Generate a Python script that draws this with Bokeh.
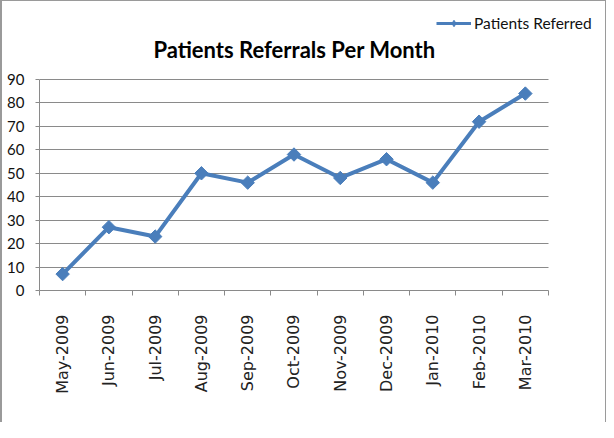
import numpy as np
from bokeh.plotting import figure
from bokeh.models import Range1d, FixedTicker, Label, Legend, LegendItem
from bokeh.embed import file_html
from bokeh.resources import INLINE

months = ["May-2009", "Jun-2009", "Jul-2009", "Aug-2009", "Sep-2009", "Oct-2009",
          "Nov-2009", "Dec-2009", "Jan-2010", "Feb-2010", "Mar-2010"]
referred = [7, 27, 23, 50, 46, 58, 48, 56, 46, 72, 84]
y_ticks = [0, 10, 20, 30, 40, 50, 60, 70, 80, 90]
series_name = "Patients Referred"
title_text = "Patients Referrals Per Month"

BLUE = "#4A7EBB"
GRAY = "#8a8a8a"

W, H = 606, 422
LEFT, BOTTOM = 39, 132           # border sizes (px)
PX_X = 46.27                     # px per category
PX_Y = 211 / 90                  # px per unit
n = len(months)
xs = list(range(n))

frame_w = W - LEFT
frame_h = H - BOTTOM
x_lo = -0.5
x_hi = x_lo + frame_w / PX_X
y_hi = frame_h / PX_Y

p = figure(width=W, height=H, output_backend="svg", toolbar_location=None,
           x_range=Range1d(x_lo, x_hi), y_range=Range1d(0, y_hi),
           frame_width=frame_w, frame_height=frame_h,
           min_border_left=LEFT, min_border_top=0, min_border_right=0,
           min_border_bottom=BOTTOM)
p.title.visible = False
p.outline_line_color = None
p.border_fill_color = None
p.background_fill_color = None
p.styles = {"box-shadow": "inset 2px 1px 0 0 #9a9a9a, inset -1px 0 0 0 #9a9a9a",
            "background": "white"}

# x axis (category boundaries as minor ticks, labels at centres)
xa = p.xaxis[0]
xa.bounds = (-0.5, n - 0.5)
xa.ticker = FixedTicker(ticks=xs, minor_ticks=[i - 0.5 for i in range(n + 1)])
xa.major_label_overrides = {i: m for i, m in enumerate(months)}
xa.major_label_orientation = np.pi / 2
xa.major_tick_in = 0
xa.major_tick_out = 0
xa.minor_tick_in = 0
xa.minor_tick_out = 5
xa.minor_tick_line_color = GRAY
xa.axis_line_color = GRAY
xa.major_label_standoff = 19
xa.major_label_text_font = "DejaVu Sans"
xa.major_label_text_font_size = "16px"
xa.major_label_text_color = "#222222"

# y axis
ya = p.yaxis[0]
ya.bounds = (0, 90)
ya.ticker = FixedTicker(ticks=y_ticks)
ya.major_tick_in = 0
ya.major_tick_out = 4
ya.minor_tick_out = 0
ya.minor_tick_in = 0
ya.major_tick_line_color = GRAY
ya.axis_line_color = GRAY
ya.major_label_standoff = 11
ya.major_label_text_font = "Lato"
ya.major_label_text_font_size = "15px"
ya.major_label_text_color = "#111111"

# grid lines only across the plotting area
p.xgrid.visible = False
yg = p.ygrid[0]
if "cross_bounds" in yg.properties():
    yg.ticker = FixedTicker(ticks=y_ticks)
    yg.cross_bounds = (-0.5, n - 0.5)
    yg.grid_line_color = GRAY
    yg.grid_line_width = 1
else:
    yg.visible = False
    p.segment(x0=[-0.5] * len(y_ticks), x1=[n - 0.5] * len(y_ticks),
              y0=y_ticks, y1=y_ticks, line_color=GRAY, line_width=1)

p.line(xs, referred, line_color=BLUE, line_width=4)
p.scatter(xs, referred, marker="square", angle=np.pi / 4, size=9.5,
          fill_color=BLUE, line_color=BLUE, line_width=1)
# thinner line and smaller diamond used only for the legend sample (off-range)
leg_line = p.line([-10, -9], [-10, -10], line_color=BLUE, line_width=3)
leg_pts = p.scatter([-10], [-10], marker="diamond", size=10,
                    fill_color=BLUE, line_color=BLUE, line_width=1)

legend = Legend(items=[LegendItem(label=series_name, renderers=[leg_line, leg_pts])],
                location=(397, 258), orientation="vertical",
                padding=0, margin=0, spacing=0,
                glyph_width=35, glyph_height=16, label_height=16, label_standoff=3,
                label_text_font="Lato", label_text_font_size="15.5px",
                label_text_color="#111111",
                border_line_color=None, background_fill_alpha=0)
p.add_layout(legend, "center")

title = Label(x=x_lo + (294 - LEFT) / PX_X, y=(frame_h - 49) / PX_Y,
              text=title_text, text_align="center",
              text_baseline="alphabetic", text_font="Lato",
              text_font_style="bold", text_font_size="22px", text_color="#000000")
p.add_layout(title)

open("out.html", "w").write(file_html(p, INLINE))
